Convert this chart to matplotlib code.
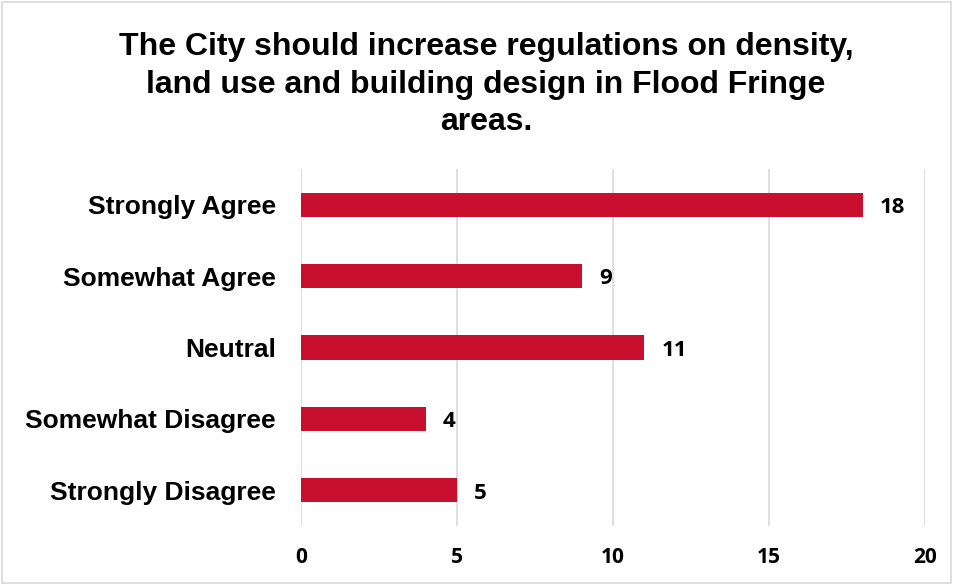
import matplotlib
matplotlib.use("Agg")
import matplotlib.pyplot as plt
from matplotlib.patches import Rectangle

categories = ["Strongly Agree", "Somewhat Agree", "Neutral", "Somewhat Disagree", "Strongly Disagree"]
values = [18, 9, 11, 4, 5]
xticks = [0, 5, 10, 15, 20]
title = "The City should increase regulations on density,\nland use and building design in Flood Fringe\nareas."

fig = plt.figure(figsize=(9.55, 5.85), dpi=100)
ax = fig.add_axes([0.3152, 0.1009, 0.6534, 0.6102])

ypos = list(range(len(categories)))
ax.barh(ypos, values, height=0.34, color="#C8102E", zorder=3)
ax.set_ylim(len(categories) - 0.5, -0.5)
ax.set_xlim(0, 20)
ax.set_xticks(xticks)
ax.set_xticklabels([str(t) for t in xticks], fontfamily="Open Sans", fontweight="bold", fontsize=15)
ax.set_yticks(ypos)
ax.set_yticklabels(categories, fontfamily="Liberation Sans", fontweight="bold", fontsize=19)
ax.tick_params(axis="both", length=0)
ax.tick_params(axis="x", pad=15)
ax.tick_params(axis="y", pad=18)
ax.grid(axis="x", color="#D9D9D9", linewidth=1.2, zorder=0)
for s in ax.spines.values():
    s.set_visible(False)

for y, v in zip(ypos, values):
    ax.text(v + 0.55, y + 0.04, str(v), va="center", ha="left", fontfamily="Open Sans",
            fontweight="bold", fontsize=16)

fig.text(0.509, 0.855, title, ha="center", va="center", fontfamily="Liberation Sans",
         fontweight="bold", fontsize=23, linespacing=1.33)

fig.patches.append(Rectangle((0.002, 0.003), 0.994, 0.994, transform=fig.transFigure,
                             fill=False, edgecolor="#D9D9D9", linewidth=1.2))

fig.savefig("out.png", dpi=100)
